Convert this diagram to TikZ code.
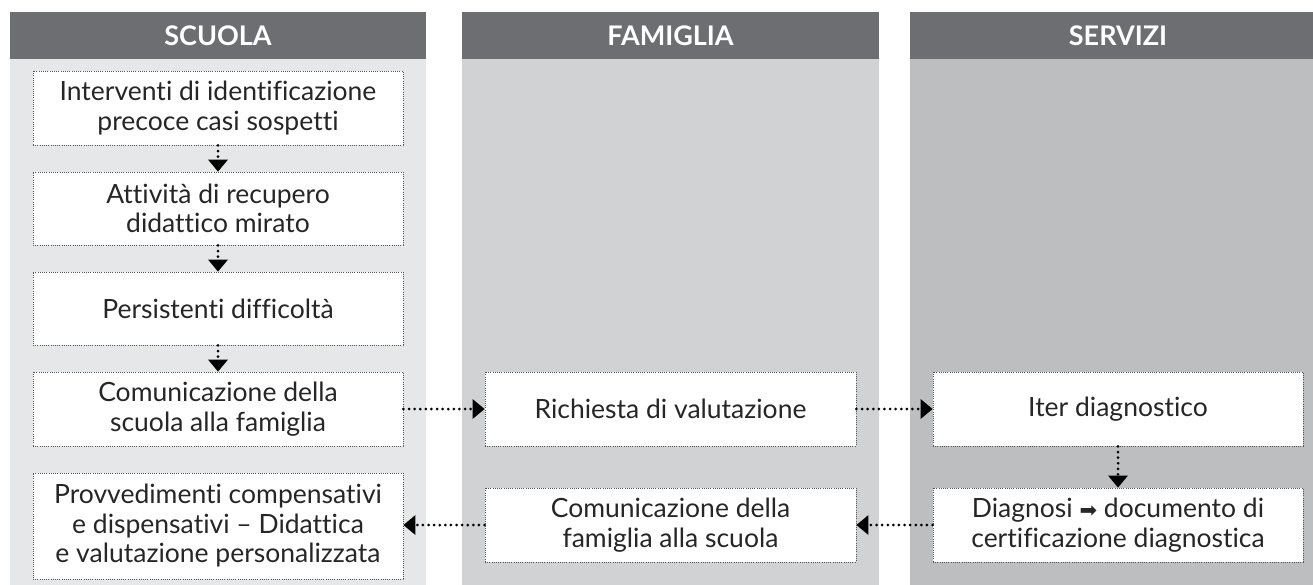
\documentclass[tikz,border=0pt]{standalone}
\usepackage{fontspec}
\setmainfont{Lato}[Ligatures={NoCommon,NoRare,NoDiscretionary,NoContextual}]
\newfontfamily\symfont{DejaVu Sans}
\usetikzlibrary{arrows.meta}
\definecolor{hdr}{HTML}{6D6E71}
\definecolor{colA}{HTML}{E6E7E8}
\definecolor{colB}{HTML}{D1D2D4}
\definecolor{colC}{HTML}{BCBEC0}
\definecolor{txt}{HTML}{262626}
\definecolor{bord}{HTML}{555555}
\tikzset{
  hdrtext/.style={text=white, font=\fontsize{27}{30}\selectfont\bfseries, anchor=center},
  stepbox/.style={draw=bord, line width=0.9pt, dash pattern=on 1pt off 1.2pt, fill=white,
    minimum width=370pt, inner sep=0pt, align=center, text=txt,
    font=\fontsize{26.5}{29.5}\selectfont},
  flow/.style={line width=3pt, dash pattern=on 0pt off 5.6pt, line cap=round,
    -{Triangle[width=20pt,length=12pt,line width=0pt]}, shorten >=0pt}
}
\begin{document}
\begin{tikzpicture}[x=1pt,y=-1pt]
\useasboundingbox (0,0) rectangle (1313,584);
\clip (0,0) rectangle (1313,584);
\fill[white] (0,0) rectangle (1313,584);
% columns
\fill[colA] (10,59) rectangle (426,590);
\fill[colB] (462,59) rectangle (879,590);
\fill[colC] (910,59) rectangle (1330,590);
\fill[hdr] (10,12) rectangle (426,59);
\fill[hdr] (462,12) rectangle (879,59);
\fill[hdr] (910,12) rectangle (1330,59);
\node[hdrtext] (h1) at (218,36) {SCUOLA};
\node[hdrtext] (h2) at (670.5,36) {FAMIGLIA};
\node[hdrtext] (h3) at (1118,36) {SERVIZI};
% column 1
\node[stepbox, minimum height=74pt] (a1) at (218,108) {Interventi di identificazione\\precoce casi sospetti};
\node[stepbox, minimum height=73pt] (a2) at (218,208.5) {Attività di recupero\\didattico mirato};
\node[stepbox, minimum height=73pt] (a3) at (218,308.5) {Persistenti difficoltà};
\node[stepbox, minimum height=74pt] (a4) at (218,409) {Comunicazione della\\scuola alla famiglia};
\node[stepbox, minimum height=106pt] (a5) at (218,526) {Provvedimenti compensativi\\e dispensativi – Didattica\\e valutazione personalizzata};
% column 2
\node[stepbox, minimum width=371pt, minimum height=74pt] (b1) at (670.5,409) {Richiesta di valutazione};
\node[stepbox, minimum width=371pt, minimum height=74pt] (b2) at (670.5,525) {Comunicazione della\\famiglia alla scuola};
% column 3
\node[stepbox, minimum height=74pt] (c1) at (1118,409) {Iter diagnostico};
\node[stepbox, minimum height=74pt] (c2) at (1118,525) {Diagnosi {\symfont\fontsize{21}{21}\selectfont ➡} documento di\\certificazione diagnostica};
% connectors
\draw[flow] (a1.south) -- (a2.north);
\draw[flow] (a2.south) -- (a3.north);
\draw[flow] (a3.south) -- (a4.north);
\draw[flow] (a4.east) -- (b1.west);
\draw[flow] (b1.east) -- (c1.west);
\draw[flow] (c1.south) -- (c2.north);
\draw[flow] (c2.west) -- (b2.east);
\draw[flow] (b2.west) -- (a5.east |- b2.west);
\end{tikzpicture}
\end{document}
